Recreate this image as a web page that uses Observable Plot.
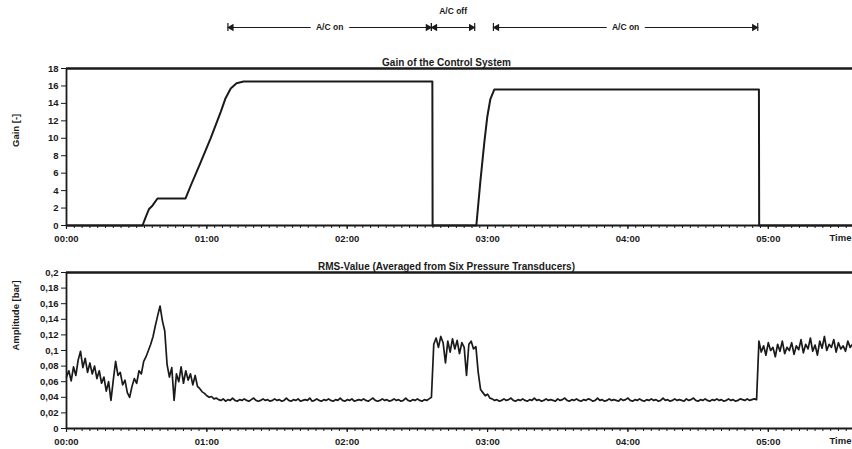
<!DOCTYPE html>
<html>
<head>
<meta charset="utf-8">
<script src="https://cdn.jsdelivr.net/npm/d3@7"></script>
<script src="https://cdn.jsdelivr.net/npm/@observablehq/plot@0.6"></script>
<style>
  html, body { margin: 0; padding: 0; background: #fff; }
  body { width: 852px; height: 449px; overflow: hidden; }
  #chart svg { display: block; }
</style>
</head>
<body>
<div id="chart"></div>
<script>
// Test run, time in minutes from start of recording
const hourTicks = [0, 60, 120, 180, 240, 300];
const hourLabels = ["00:00", "01:00", "02:00", "03:00", "04:00", "05:00"];
const timeEnd = 336;

// Gain of the control system (time in minutes, gain dimensionless)
const gainTimeMin = [0, 32.5, 33.9, 35.3, 36.8, 38.9, 50.9, 53.0, 57.3, 61.6, 65.9, 68.0, 70.2, 72.7, 75.7,
  156.4, 156.5, 175.2, 176.9, 178.6, 179.9, 181.2, 182.9, 296.0, 296.1, 336];
const gainValue = [0, 0, 1.0, 1.9, 2.3, 3.1, 3.1, 4.5, 7.2, 10.0, 13.0, 14.6, 15.7, 16.3, 16.5,
  16.5, 0, 0, 5.0, 9.5, 12.5, 14.5, 15.6, 15.6, 0, 0];
const gainTicks = [0, 2, 4, 6, 8, 10, 12, 14, 16, 18];

// RMS amplitude averaged over six pressure transducers, one sample per minute [bar]
const rmsStartMin = 0;
const rmsStepMin = 1;
const rmsBar = [
  0.066,0.074,0.061,0.079,0.068,0.088,0.099,0.078,0.090,0.072,
  0.084,0.070,0.080,0.064,0.074,0.058,0.066,0.048,0.060,0.036,
  0.062,0.086,0.068,0.072,0.056,0.062,0.046,0.040,0.054,0.064,
  0.058,0.074,0.070,0.086,0.092,0.100,0.108,0.118,0.132,0.145,
  0.157,0.138,0.125,0.082,0.066,0.078,0.036,0.070,0.060,0.079,
  0.058,0.074,0.062,0.070,0.056,0.068,0.054,0.051,0.047,0.045,
  0.042,0.040,0.041,0.038,0.039,0.037,
  0.036,0.038,0.035,0.037,0.036,0.039,0.036,0.035,0.037,0.036,
  0.038,0.036,0.035,0.037,0.039,0.036,0.035,0.036,0.038,0.036,
  0.037,0.035,0.036,0.038,0.036,0.037,0.035,0.036,0.039,0.036,
  0.035,0.037,0.036,0.038,0.035,0.036,0.037,0.036,0.039,0.035,
  0.036,0.038,0.036,0.035,0.037,0.036,0.038,0.036,0.035,0.037,
  0.036,0.039,0.036,0.035,0.037,0.036,0.038,0.035,0.036,0.037,
  0.036,0.038,0.036,0.035,0.037,0.039,0.036,0.035,0.036,0.038,
  0.036,0.037,0.035,0.036,0.038,0.036,0.037,0.035,0.036,0.039,
  0.036,0.035,0.037,0.036,0.038,0.036,0.035,0.037,0.036,0.038,
  0.040,0.108,0.116,0.104,0.118,0.110,0.084,0.112,0.098,0.115,
  0.102,0.113,0.096,0.110,0.104,0.068,0.108,0.112,0.102,0.105,
  0.072,0.050,0.046,0.042,0.044,0.039,
  0.038,0.036,0.037,0.035,0.036,0.038,0.036,0.037,0.039,0.036,
  0.035,0.037,0.036,0.038,0.036,0.035,0.037,0.036,0.039,0.036,
  0.037,0.035,0.036,0.038,0.036,0.037,0.036,0.035,0.038,0.036,
  0.037,0.039,0.036,0.035,0.037,0.036,0.038,0.036,0.035,0.037,
  0.036,0.038,0.037,0.035,0.036,0.039,0.036,0.037,0.035,0.036,
  0.038,0.036,0.037,0.036,0.035,0.038,0.036,0.037,0.039,0.036,
  0.035,0.037,0.036,0.038,0.036,0.035,0.037,0.036,0.038,0.036,
  0.037,0.035,0.036,0.039,0.036,0.037,0.035,0.036,0.038,0.036,
  0.037,0.036,0.035,0.038,0.036,0.037,0.039,0.036,0.035,0.037,
  0.036,0.038,0.036,0.035,0.037,0.036,0.038,0.036,0.037,0.035,
  0.036,0.038,0.036,0.037,0.035,0.036,0.038,0.037,0.036,0.038,
  0.036,0.037,0.038,0.037,
  0.112,0.098,0.106,0.094,0.110,0.100,0.104,0.092,0.108,0.099,
  0.112,0.096,0.104,0.100,0.110,0.095,0.106,0.101,0.114,0.097,
  0.108,0.102,0.116,0.099,0.107,0.094,0.112,0.103,0.118,0.100,
  0.108,0.104,0.114,0.098,0.110,0.102,0.106,0.099,0.112,0.104,
  0.108
];
const rmsTicks = [0, 0.02, 0.04, 0.06, 0.08, 0.1, 0.12, 0.14, 0.16, 0.18, 0.2];

// Operating phases of the active control (minutes)
const phaseStart = [69, 156, 182.5];
const phaseEnd = [156, 174.5, 295.5];
const phaseLabel = ["A/C on", "A/C off", "A/C on"];

const ink = "#1a1a1a";
const font = "'Liberation Sans', Arial, sans-serif";
const gainMax = 18;
const rmsMax = 0.2;

const minorTicks = d3.range(0, timeEnd, 10 / 3);
const commaFormat = d => String(+d.toFixed(2)).replace(".", ",");

function timeAxis() {
  return [
    Plot.ruleX(minorTicks, {y1: 0, y2: 0, insetBottom: -3, stroke: ink, strokeWidth: 1}),
    Plot.axisX(hourTicks, {tickSize: 4, tickPadding: 6, stroke: ink, strokeWidth: 1.2,
      tickFormat: d => hourLabels[hourTicks.indexOf(d)], label: null}),
    Plot.text(["Time"], {frameAnchor: "bottom-right", textAnchor: "end", dx: -1, dy: 15, fill: ink})
  ];
}

const gainData = gainTimeMin.map((t, i) => ({t, g: gainValue[i]}));
const rmsData = rmsBar.map((v, i) => ({t: rmsStartMin + i * rmsStepMin, v}));
const phases = phaseStart.map((s, i) => ({start: s, end: phaseEnd[i], label: phaseLabel[i]}));
const wide = phases.filter(d => d.end - d.start > 40);
const narrow = phases.filter(d => d.end - d.start <= 40);
const annDy = -41;

const styleBase = {fontFamily: font, fontSize: "9.5px", fontWeight: "bold", color: ink, background: "#fff", overflow: "visible"};

const gainChart = Plot.plot({
  width: 852, height: 250,
  marginLeft: 66, marginRight: 0, marginTop: 68, marginBottom: 25,
  style: styleBase,
  x: {domain: [0, timeEnd], axis: null},
  y: {domain: [0, gainMax], axis: null},
  marks: [
    Plot.ruleY([gainMax], {stroke: ink, strokeWidth: 2.4}),
    Plot.ruleY([0], {stroke: ink, strokeWidth: 1.8}),
    Plot.ruleX([0], {stroke: ink, strokeWidth: 1.8}),
    Plot.axisY(gainTicks, {tickSize: 5, tickPadding: 3, stroke: ink, label: null}),
    ...timeAxis(),
    Plot.line(gainData, {x: "t", y: "g", stroke: ink, strokeWidth: 2}),
    Plot.text(["Gain of the Control System"], {frameAnchor: "top", dx: -13, dy: -10, fontSize: 10, fill: ink}),
    Plot.text(["Gain [-]"], {frameAnchor: "left", rotate: -90, dx: -51, fill: ink}),
    // phase annotation above the panel
    Plot.link(phases, {x1: "start", x2: "end", y1: gainMax, y2: gainMax, dy: annDy, stroke: ink, strokeWidth: 1}),
    Plot.ruleX(phases, {x: "start", y1: gainMax, y2: gainMax, dy: annDy, insetTop: -4, insetBottom: -4, stroke: ink, strokeWidth: 1.2}),
    Plot.ruleX(phases, {x: "end", y1: gainMax, y2: gainMax, dy: annDy, insetTop: -4, insetBottom: -4, stroke: ink, strokeWidth: 1.2}),
    Plot.dot(phases, {x: "start", y: gainMax, dy: annDy, dx: 3.5, symbol: "triangle", rotate: -90, r: 2.8, fill: ink, stroke: null}),
    Plot.dot(phases, {x: "end", y: gainMax, dy: annDy, dx: -3.5, symbol: "triangle", rotate: 90, r: 2.8, fill: ink, stroke: null}),
    Plot.text(wide, {x: d => (d.start + d.end) / 2, y: gainMax, dy: annDy, text: "label", fill: ink,
      stroke: "white", strokeWidth: 12, paintOrder: "stroke", fontSize: 8.5}),
    Plot.text(narrow, {x: d => (d.start + d.end) / 2, y: gainMax, dy: annDy - 16, text: "label", fill: ink, fontSize: 8.5})
  ]
});

const rmsChart = Plot.plot({
  width: 852, height: 199,
  marginLeft: 66, marginRight: 0, marginTop: 22, marginBottom: 21,
  style: styleBase,
  x: {domain: [0, timeEnd], axis: null},
  y: {domain: [0, rmsMax], axis: null},
  marks: [
    Plot.ruleY([rmsMax], {stroke: ink, strokeWidth: 2.4}),
    Plot.ruleY([0], {stroke: ink, strokeWidth: 1.8}),
    Plot.ruleX([0], {stroke: ink, strokeWidth: 1.8}),
    Plot.axisY(rmsTicks, {tickSize: 5, tickPadding: 3, stroke: ink, tickFormat: commaFormat, label: null}),
    ...timeAxis(),
    Plot.line(rmsData, {x: "t", y: "v", stroke: ink, strokeWidth: 1.7}),
    Plot.text(["RMS-Value (Averaged from Six Pressure Transducers)"], {frameAnchor: "top", dx: -13, dy: -10, fontSize: 10, fill: ink}),
    Plot.text(["Amplitude [bar]"], {frameAnchor: "left", rotate: -90, dx: -51, fill: ink})
  ]
});

document.getElementById("chart").append(gainChart, rmsChart);
</script>
</body>
</html>
